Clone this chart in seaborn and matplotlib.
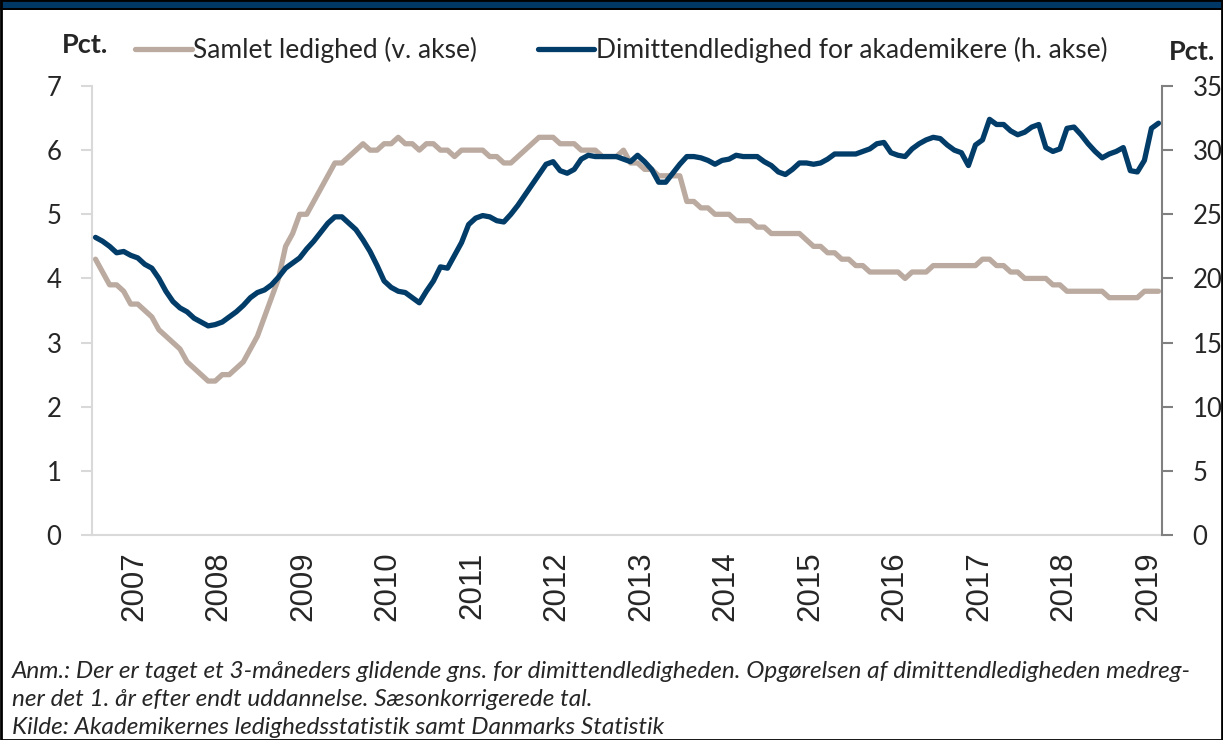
import matplotlib.pyplot as plt
import matplotlib.patches as mpatches
import seaborn as sns
import numpy as np
import pandas as pd

# Monthly values, Jan 2007 - Aug 2019
years = [str(y) for y in range(2007, 2020)]

samlet = [
    4.3, 4.1, 3.9, 3.9, 3.8, 3.6, 3.6, 3.5, 3.4, 3.2, 3.1, 3.0,   # 2007
    2.9, 2.7, 2.6, 2.5, 2.4, 2.4, 2.5, 2.5, 2.6, 2.7, 2.9, 3.1,   # 2008
    3.4, 3.7, 4.0, 4.5, 4.7, 5.0, 5.0, 5.2, 5.4, 5.6, 5.8, 5.8,   # 2009
    5.9, 6.0, 6.1, 6.0, 6.0, 6.1, 6.1, 6.2, 6.1, 6.1, 6.0, 6.1,   # 2010
    6.1, 6.0, 6.0, 5.9, 6.0, 6.0, 6.0, 6.0, 5.9, 5.9, 5.8, 5.8,   # 2011
    5.9, 6.0, 6.1, 6.2, 6.2, 6.2, 6.1, 6.1, 6.1, 6.0, 6.0, 6.0,   # 2012
    5.9, 5.9, 5.9, 6.0, 5.8, 5.8, 5.7, 5.7, 5.6, 5.6, 5.6, 5.6,   # 2013
    5.2, 5.2, 5.1, 5.1, 5.0, 5.0, 5.0, 4.9, 4.9, 4.9, 4.8, 4.8,   # 2014
    4.7, 4.7, 4.7, 4.7, 4.7, 4.6, 4.5, 4.5, 4.4, 4.4, 4.3, 4.3,   # 2015
    4.2, 4.2, 4.1, 4.1, 4.1, 4.1, 4.1, 4.0, 4.1, 4.1, 4.1, 4.2,   # 2016
    4.2, 4.2, 4.2, 4.2, 4.2, 4.2, 4.3, 4.3, 4.2, 4.2, 4.1, 4.1,   # 2017
    4.0, 4.0, 4.0, 4.0, 3.9, 3.9, 3.8, 3.8, 3.8, 3.8, 3.8, 3.8,   # 2018
    3.7, 3.7, 3.7, 3.7, 3.7, 3.8, 3.8, 3.8,                       # 2019
]

dimittend = [
    23.2, 22.9, 22.5, 22.0, 22.1, 21.8, 21.6, 21.1, 20.8, 20.0, 19.0, 18.2,   # 2007
    17.7, 17.4, 16.9, 16.6, 16.3, 16.4, 16.6, 17.0, 17.4, 17.9, 18.5, 18.9,   # 2008
    19.1, 19.5, 20.1, 20.8, 21.2, 21.6, 22.3, 22.9, 23.6, 24.3, 24.8, 24.8,   # 2009
    24.3, 23.8, 23.0, 22.1, 21.0, 19.8, 19.3, 19.0, 18.9, 18.5, 18.1, 19.0,   # 2010
    19.8, 20.9, 20.8, 21.8, 22.8, 24.2, 24.7, 24.9, 24.8, 24.5, 24.4, 25.0,   # 2011
    25.7, 26.5, 27.3, 28.1, 28.9, 29.1, 28.4, 28.2, 28.5, 29.3, 29.6, 29.5,   # 2012
    29.5, 29.5, 29.5, 29.3, 29.1, 29.6, 29.1, 28.5, 27.5, 27.5, 28.2, 28.9,   # 2013
    29.5, 29.5, 29.4, 29.2, 28.9, 29.2, 29.3, 29.6, 29.5, 29.5, 29.5, 29.1,   # 2014
    28.8, 28.3, 28.1, 28.5, 29.0, 29.0, 28.9, 29.0, 29.3, 29.7, 29.7, 29.7,   # 2015
    29.7, 29.9, 30.1, 30.5, 30.6, 29.8, 29.6, 29.5, 30.1, 30.5, 30.8, 31.0,   # 2016
    30.9, 30.4, 30.0, 29.8, 28.8, 30.4, 30.8, 32.4, 32.0, 32.0, 31.5, 31.2,   # 2017
    31.4, 31.8, 32.0, 30.2, 29.9, 30.1, 31.7, 31.8, 31.2, 30.5, 29.9, 29.4,   # 2018
    29.7, 29.9, 30.2, 28.4, 28.3, 29.2, 31.7, 32.1,                           # 2019
]

label_samlet = "Samlet ledighed (v. akse)"
label_dim = "Dimittendledighed for akademikere (h. akse)"
note_lines = [
    "Anm.: Der er taget et 3-måneders glidende gns. for dimittendledigheden. "
    "Opgørelsen af dimittendledigheden medreg-",
    "ner det 1. år efter endt uddannelse. Sæsonkorrigerede tal.",
    "Kilde: Akademikernes ledighedsstatistik samt Danmarks Statistik",
]

GREY = "#BBAAA0"
BLUE = "#023C69"

df = pd.DataFrame({"month": np.arange(len(samlet)), "samlet": samlet, "dimittend": dimittend})

sns.set_theme(style="white")
plt.rcParams["font.family"] = ["Lato", "DejaVu Sans"]

fig = plt.figure(figsize=(12.23, 7.40), dpi=100)
ax = fig.add_axes([92 / 1223, 205 / 740, 1070 / 1223, 449 / 740])
ax2 = ax.twinx()

sns.lineplot(data=df, x="month", y="samlet", ax=ax, color=GREY, linewidth=3.8, label=label_samlet, legend=False)
sns.lineplot(data=df, x="month", y="dimittend", ax=ax2, color=BLUE, linewidth=3.8, label=label_dim, legend=False)

ax.set_xlim(-0.5, len(samlet) - 0.5)
ax.set_ylim(0, 7)
ax2.set_ylim(0, 35)
ax.set_yticks(range(0, 8))
ax2.set_yticks(range(0, 36, 5))
ax.set_xlabel("")
ax.set_ylabel("")
ax2.set_ylabel("")

# year boundaries as major ticks, year labels centred in between
ax.set_xticks(np.arange(0, len(samlet), 12) - 0.5)
ax.set_xticklabels([])
ax.set_xticks(np.arange(len(years)) * 12 + 5.5, minor=True)
ax.set_xticklabels(years, minor=True, rotation=90, fontsize=22.5, family="Liberation Sans")
ax.tick_params(axis="x", which="major", length=10, width=1.5, color="#d9d9d9", direction="out")
ax.tick_params(axis="x", which="minor", length=0, pad=12)

ax.tick_params(axis="y", length=8, width=1.5, color="#d9d9d9", labelsize=18.5, pad=14, left=True)
ax2.tick_params(axis="y", length=8, width=1.5, color="#808080", labelsize=18.5, pad=14, right=True)

for a in (ax, ax2):
    a.spines["top"].set_visible(False)
ax.spines["right"].set_visible(False)
ax2.spines["left"].set_visible(False)
ax2.spines["bottom"].set_visible(False)
ax.spines["left"].set_color("#d9d9d9")
ax.spines["left"].set_linewidth(1.5)
ax.spines["bottom"].set_color("#d9d9d9")
ax.spines["bottom"].set_linewidth(1.5)
ax2.spines["right"].set_color("#808080")
ax2.spines["right"].set_linewidth(1.5)

# legend across the top
h1, l1 = ax.get_legend_handles_labels()
h2, l2 = ax2.get_legend_handles_labels()
fig.legend(h1 + h2, l1 + l2, loc="center", bbox_to_anchor=(621 / 1223, 1 - 50 / 740), ncol=2,
           frameon=False, fontsize=19, handlelength=2.15, handletextpad=0.05, columnspacing=2.3)

fig.text(85 / 1223, 1 - 45 / 740, "Pct.", ha="center", va="center", fontsize=19.5, weight="bold")
fig.text(1192 / 1223, 1 - 52 / 740, "Pct.", ha="center", va="center", fontsize=19.5, weight="bold")

for k, line in enumerate(note_lines):
    fig.text(12 / 1223, 1 - (671 + 28.5 * k) / 740, line, ha="left", va="center",
             fontsize=17.6, style="italic")

# dark title band and frame
fig.patches.append(mpatches.Rectangle((0, 1 - 9 / 740), 1, 9 / 740, transform=fig.transFigure,
                                      facecolor="#003865", edgecolor="none", zorder=5))
fig.patches.append(mpatches.Rectangle((0, 1 - 10 / 740), 1, 1.5 / 740, transform=fig.transFigure,
                                      facecolor="black", edgecolor="none", zorder=5))
fig.patches.append(mpatches.Rectangle((0.001, 0), 0.998, 1, transform=fig.transFigure,
                                      facecolor="none", edgecolor="black", linewidth=2, zorder=5))

fig.savefig("out.png", dpi=100)
